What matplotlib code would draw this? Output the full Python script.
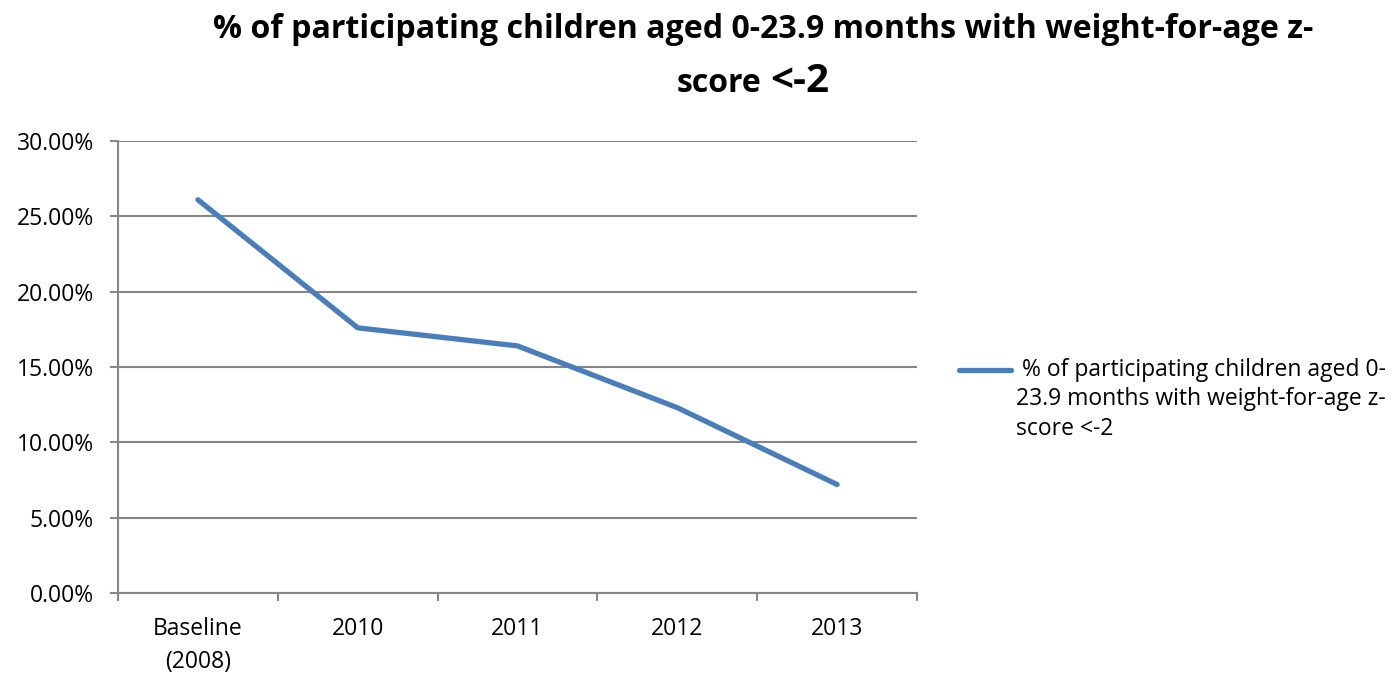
import matplotlib
matplotlib.use('Agg')
import matplotlib.pyplot as plt
from matplotlib.lines import Line2D
from matplotlib.ticker import FuncFormatter

plt.rcParams['font.family'] = ['Open Sans', 'DejaVu Sans']

# data
categories = ['Baseline\n(2008)', '2010', '2011', '2012', '2013']
values = [26.1, 17.6, 16.4, 12.3, 7.2]
series_name = '% of participating children aged 0-23.9 months with weight-for-age z-score <-2'

blue = '#4a7ebb'
grey = '#868686'

fig = plt.figure(figsize=(14, 6.74), dpi=100)
ax = fig.add_axes([118 / 1400, 1 - 593 / 674, (917 - 118) / 1400, (593 - 141) / 674])

x = [i + 0.5 for i in range(len(categories))]
ax.plot(x, values, color=blue, lw=3.8, solid_capstyle='round', solid_joinstyle='round', zorder=3)

ax.set_xlim(0, len(categories))
ax.set_ylim(0, 30)
ax.set_yticks(range(0, 31, 5))
ax.yaxis.set_major_formatter(FuncFormatter(lambda v, p: '%.2f%%' % v))
ax.grid(axis='y', color=grey, lw=1.5)
ax.set_axisbelow(True)

# category boundaries get the ticks, labels sit in the middle
ax.set_xticks(range(len(categories) + 1))
ax.set_xticklabels([])
ax.set_xticks(x, minor=True)
ax.set_xticklabels(categories, minor=True, linespacing=1.5)
ax.tick_params(axis='x', which='major', length=6, width=1.5, color=grey, direction='out')
ax.tick_params(axis='x', which='minor', length=0, pad=17, labelsize=16.5)
ax.tick_params(axis='y', length=6, width=1.5, color=grey, pad=11.5, labelsize=16.5)

for s in ['top', 'right']:
    ax.spines[s].set_visible(False)
for s in ['left', 'bottom']:
    ax.spines[s].set_color(grey)
    ax.spines[s].set_linewidth(1.5)

# title
fig.text(763 / 1400, 1 - 38 / 674, '% of participating children aged 0-23.9 months with weight-for-age z-',
         ha='center', va='baseline', fontsize=23.1, fontweight='bold')
fig.text(761 / 1400, 1 - 92 / 674, 'score', ha='right', va='baseline', fontsize=23, fontweight='bold')
fig.text(770 / 1400, 1 - 92 / 674, '<-2', ha='left', va='baseline', fontsize=29, fontweight='bold')

# legend
fig.add_artist(Line2D([959 / 1400, 1011 / 1400], [1 - 370 / 674, 1 - 370 / 674],
                      color=blue, lw=3.8, solid_capstyle='round'))
fig.text(1016 / 1400, 1 - 358 / 674,
         ' % of participating children aged 0-\n23.9 months with weight-for-age z-\nscore <-2',
         ha='left', va='top', fontsize=16.5, linespacing=1.3)

fig.savefig('out.png', dpi=100)
